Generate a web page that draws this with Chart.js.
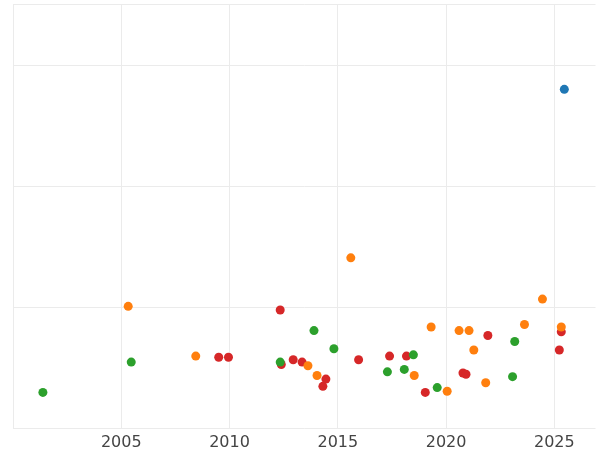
<!DOCTYPE html>
<html>
<head>
<script src="https://cdn.jsdelivr.net/npm/chart.js@4"></script>
<style>
  body { margin: 0; background: #fff; }
  #wrap { width: 600px; height: 450px; }
</style>
</head>
<body>
<div id="wrap"><canvas id="chart"></canvas></div>
<script>
// -------- DATA -------- //
const yearTicks = [2000, 2005, 2010, 2015, 2020, 2025];

const blueX = [2025.46];
const blueY = [2.80];

const orangeX = [2005.32, 2008.44, 2015.6, 2013.62, 2014.04, 2018.53, 2019.31, 2020.05, 2020.6, 2021.06, 2021.28, 2021.83, 2023.62, 2024.45, 2025.32];
const orangeY = [1.01, 0.60, 1.41, 0.52, 0.44, 0.44, 0.84, 0.31, 0.81, 0.81, 0.65, 0.38, 0.86, 1.07, 0.84];

const greenX = [2001.38, 2005.46, 2012.34, 2013.9, 2014.82, 2017.29, 2018.07, 2018.49, 2019.59, 2023.07, 2023.17];
const greenY = [0.30, 0.55, 0.55, 0.81, 0.66, 0.47, 0.49, 0.61, 0.34, 0.43, 0.72];

const redX = [2009.5, 2009.95, 2012.34, 2012.39, 2012.94, 2013.35, 2014.31, 2014.45, 2015.96, 2017.39, 2018.17, 2019.04, 2020.78, 2020.92, 2021.93, 2025.23, 2025.32];
const redY = [0.59, 0.59, 0.98, 0.53, 0.57, 0.55, 0.35, 0.41, 0.57, 0.60, 0.60, 0.30, 0.46, 0.45, 0.77, 0.65, 0.80];

const pts = (xs, ys) => xs.map((x, i) => ({ x: x, y: ys[i] }));

const series = (data, color) => ({
  data: data,
  backgroundColor: color,
  borderColor: color,
  pointRadius: 4.5,
  pointHoverRadius: 4.5,
  borderWidth: 0,
  clip: false
});

// -------- CHART -------- //
new Chart(document.getElementById('chart'), {
  type: 'scatter',
  data: {
    datasets: [
      series(pts(blueX, blueY), '#1f77b4'),
      series(pts(orangeX, orangeY), '#ff7f0e'),
      series(pts(greenX, greenY), '#2ca02c'),
      series(pts(redX, redY), '#d62728')
    ]
  },
  options: {
    responsive: true,
    maintainAspectRatio: false,
    animation: { duration: 0 },
    layout: { padding: { left: 13, top: -5, right: -6, bottom: -6 } },
    scales: {
      x: {
        type: 'linear',
        min: 2000,
        max: 2026.9,
        grid: { color: '#ebebeb', drawTicks: false },
        border: { display: false },
        afterBuildTicks: axis => {
          axis.ticks = yearTicks.map(v => ({ value: v }));
        },
        ticks: {
          autoSkip: false,
          maxRotation: 0,
          padding: 4,
          color: '#444',
          font: { family: 'DejaVu Sans', size: 16 },
          callback: v => v > 2000 ? String(v) : ''
        }
      },
      y: {
        min: 0,
        max: 3.5,
        grid: { color: '#ebebeb', drawTicks: false },
        border: { display: false },
        ticks: { stepSize: 1, display: false }
      }
    },
    plugins: {
      legend: { display: false },
      tooltip: { enabled: false }
    }
  }
});
</script>
</body>
</html>
